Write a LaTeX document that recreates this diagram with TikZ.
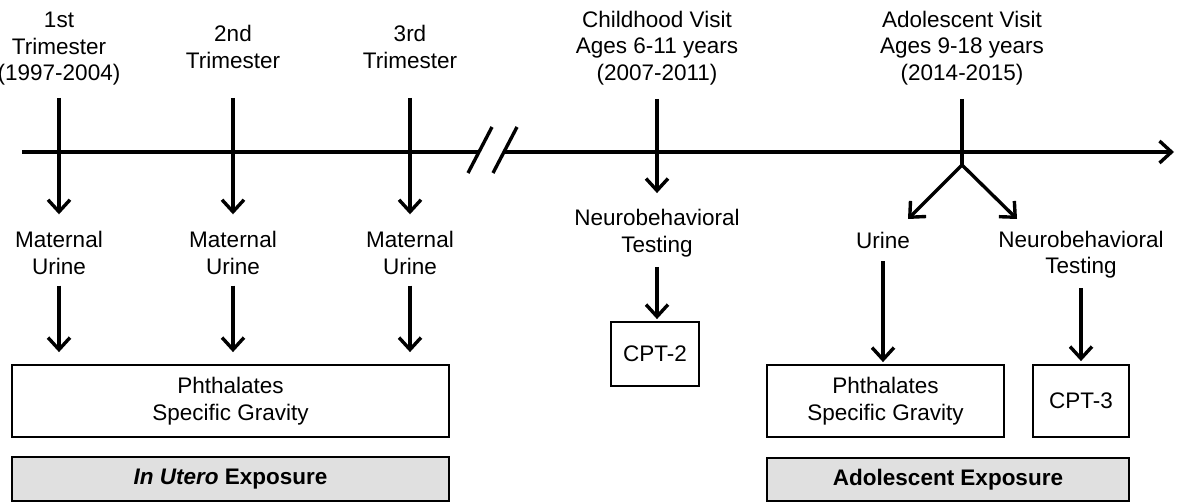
\documentclass[tikz,border=0pt]{standalone}
\usepackage{fontspec}
\setmainfont{Liberation Sans}
\usetikzlibrary{arrows.meta}
\definecolor{boxgray}{RGB}{224,224,224}
\begin{document}
\begin{tikzpicture}[x=1pt,y=-1pt,
  lbl/.style={inner sep=0pt, align=center, font=\fontsize{22.5}{26.5}\selectfont},
  arr/.style={line width=3.4pt, -{Straight Barb[length=12pt,width=22pt,line width=3.4pt]}},
  plain/.style={line width=3.4pt},
  box/.style={draw, line width=1.8pt, inner sep=0pt, align=center, font=\fontsize{22.5}{26.5}\selectfont},
  greybox/.style={box, fill=boxgray, font=\fontsize{22.5}{26.5}\selectfont\bfseries}]
\useasboundingbox (0,0) rectangle (1180,502);

% top labels
\node[lbl] (t1) at (59,49) {1st\\Trimester\\(1997-2004)};
\node[lbl] (t2) at (233,47) {2nd\\Trimester};
\node[lbl] (t3) at (410,47) {3rd\\Trimester};
\node[lbl] (tc) at (657,48) {Childhood Visit\\Ages 6-11 years\\(2007-2011)};
\node[lbl] (ta) at (962,48) {Adolescent Visit\\Ages 9-18 years\\(2014-2015)};

% timeline
\coordinate (L0) at (22,152);
\coordinate (L1) at (478,152);
\coordinate (R0) at (505,152);
\coordinate (R1) at (1174,152);
\draw[plain] (L0) -- (L1);
\draw[arr] (R0) -- (R1);
\coordinate (s1a) at (468,173); \coordinate (s1b) at (492,127);
\coordinate (s2a) at (493,173); \coordinate (s2b) at (517,127);
\draw[plain] (s1a) -- (s1b);
\draw[plain] (s2a) -- (s2b);

% middle labels
\node[lbl] (m1) at (59,253) {Maternal\\Urine};
\node[lbl] (m2) at (233,253) {Maternal\\Urine};
\node[lbl] (m3) at (410,253) {Maternal\\Urine};
\node[lbl] (nc) at (657,233) {Neurobehavioral\\Testing};
\node[lbl] (ua) at (883,240) {Urine};
\node[lbl] (na) at (1081,254.5) {Neurobehavioral\\Testing};

% boxes
\node[box, minimum width=437pt, minimum height=72pt] (p1) at (230.5,401) {Phthalates\\Specific Gravity};
\node[greybox, minimum width=437pt, minimum height=44pt] (g1) at (230.5,479) {\textit{In Utero} Exposure};
\node[box, minimum width=88pt, minimum height=64pt] (c2) at (655,354) {CPT-2};
\node[box, minimum width=237pt, minimum height=72pt] (p2) at (885.5,401) {Phthalates\\Specific Gravity};
\node[box, minimum width=96pt, minimum height=72pt] (c3) at (1081,401) {CPT-3};
\node[greybox, minimum width=362pt, minimum height=43pt] (g2) at (948,479.5) {Adolescent Exposure};

% verticals from timeline
\coordinate (v1) at (59,98);
\coordinate (v2) at (233,98);
\coordinate (v3) at (410,98);
\coordinate (vc) at (657,99);
\coordinate (va) at (962,99);
\draw[arr, shorten >=17pt] (v1) -- (m1.north);
\draw[arr, shorten >=17pt] (v2) -- (m2.north);
\draw[arr, shorten >=17pt] (v3) -- (m3.north);
\draw[arr, shorten >=16pt] (vc) -- (nc.north);

% adolescent fork
\coordinate (fk) at (962,165);
\coordinate (fl) at (908,219);
\coordinate (fr) at (1017,219);
\draw[plain] (va) -- (fk);
\draw[arr] (fk) -- (fl);
\draw[arr] (fk) -- (fr);

% lower arrows
\draw[arr, shorten <=11pt, shorten >=12pt] (m1.south) -- (m1.south |- p1.north);
\draw[arr, shorten <=11pt, shorten >=12pt] (m2.south) -- (m2.south |- p1.north);
\draw[arr, shorten <=11pt, shorten >=12pt] (m3.south) -- (m3.south |- p1.north);
\draw[arr, shorten <=10pt, shorten >=2pt] (nc.south) -- (nc.south |- c2.north);
\draw[arr, shorten <=13pt, shorten >=2pt] (ua.south) -- (ua.south |- p2.north);
\draw[arr, shorten <=10pt, shorten >=3pt] (na.south) -- (na.south |- c3.north);
\end{tikzpicture}
\end{document}
